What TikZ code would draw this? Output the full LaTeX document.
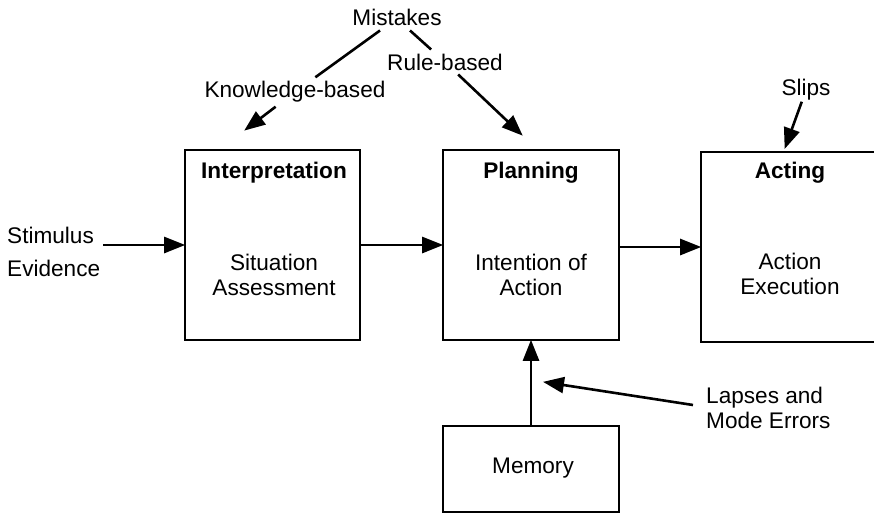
\documentclass[tikz,border=0pt]{standalone}
\usepackage{fontspec}
\setmainfont{Liberation Sans}
\usetikzlibrary{arrows.meta}
\begin{document}
\begin{tikzpicture}[x=1pt,y=-1pt,
  box/.style={draw,line width=1.6pt,minimum width=#1,inner sep=0pt},
  lbl/.style={font=\fontsize{22.6}{25}\selectfont,inner sep=1pt,align=center},
  hdr/.style={font=\fontsize{22.6}{25}\selectfont\bfseries,inner sep=1pt},
  arr/.style={line width=2.6pt,-{Triangle[length=21pt,width=16pt]},shorten >=-1pt},
  ln/.style={line width=2.6pt}]
\clip (0,0) rectangle (874,514);
\useasboundingbox (0,0) rectangle (874,514);
% boxes
\node[box=175pt,minimum height=190pt] (interp) at (272.5,245) {};
\node[box=176pt,minimum height=190pt] (plan) at (531,245) {};
\node[box=179pt,minimum height=190pt] (act) at (790.5,247) {};
\node[box=176pt,minimum height=86pt] (mem) at (531,469) {};
% box texts
\node[hdr] (t1) at (274,173) {Interpretation};
\node[lbl] (s1) at (274,274.5) {Situation\\Assessment};
\node[hdr] (t2) at (531,173) {Planning};
\node[lbl] (s2) at (531,274.5) {Intention of\\Action};
\node[hdr] (t3) at (790,173) {Acting};
\node[lbl] (s3) at (790,273.5) {Action\\Execution};
\node[lbl] (m) at (533,468) {Memory};
% side labels
\node[lbl,anchor=west] (stim) at (6,235) {Stimulus};
\node[lbl,anchor=west] (evid) at (6,268) {Evidence};
\node[lbl,anchor=west,align=left] (lapses) at (705,407.5) {Lapses and\\Mode Errors};
\node[lbl] (mist) at (397,17) {Mistakes};
\node[lbl,inner sep=4pt] (kb) at (295,92) {Knowledge-based};
\node[lbl,inner sep=4pt] (rb) at (445,62) {Rule-based};
\node[lbl] (slips) at (806,90) {Slips};
% coordinates
\coordinate (stimend) at (103,245);
\coordinate (kbtip) at (245,130);
\coordinate (rbtip) at (522,135);
\coordinate (sliptip) at (785,148);
\coordinate (lapstart) at (693,405);
\coordinate (laptip) at (544,382);
% connectors
\draw[arr] (stimend) -- (interp.west);
\draw[arr] (interp.east) -- (plan.west);
\draw[arr] (plan.east |- act.west) -- (act.west);
\draw[arr] (mem.north) -- (plan.south);
\draw[arr] (lapstart) -- (laptip);
\draw[ln] ([xshift=-17pt,yshift=-4pt]mist.south) -- (kb);
\draw[arr] (kb) -- (kbtip);
\draw[ln] ([xshift=13pt,yshift=-4pt]mist.south) -- (rb);
\draw[arr] (rb) -- (rbtip);
\draw[arr] (slips) -- (sliptip);
\end{tikzpicture}
\end{document}
